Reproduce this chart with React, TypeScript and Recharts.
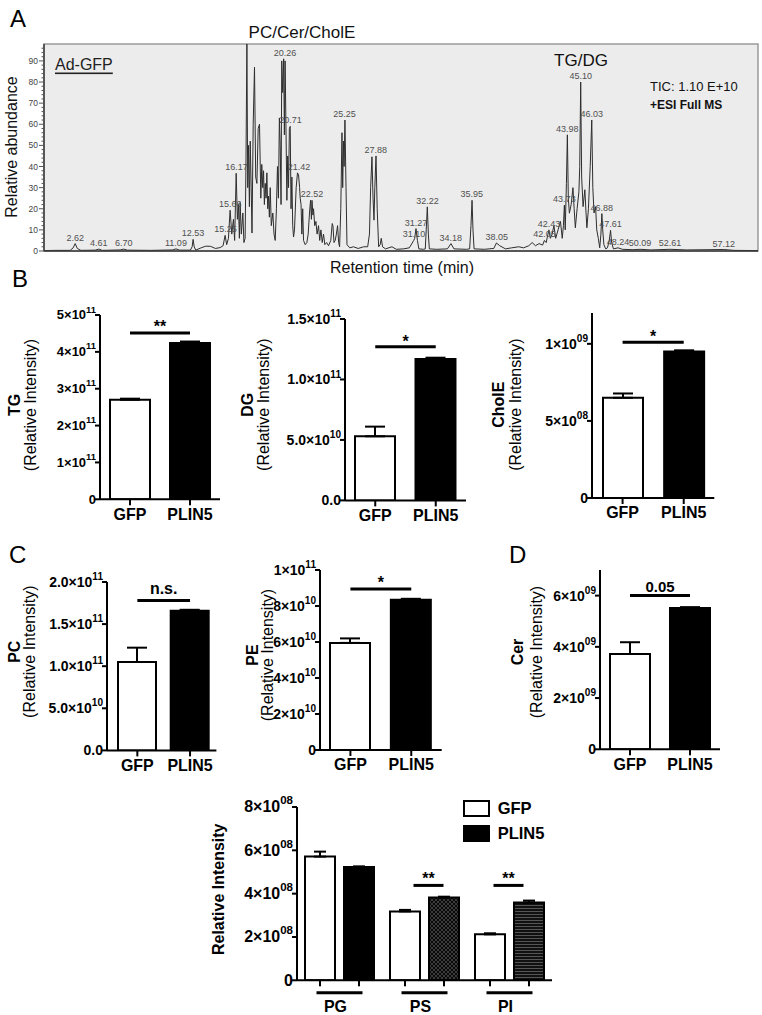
import React from 'react';
import {
  ComposedChart, BarChart, Bar, Line, XAxis, YAxis, CartesianGrid, ErrorBar,
  ReferenceLine, ReferenceArea, ReferenceDot, Cell, Legend, Label,
} from 'recharts';

const FONT = '"Liberation Sans", Arial, Helvetica, sans-serif';

// ---------- A: total ion chromatogram, Ad-GFP ----------
// [retention time (min), relative abundance]
const chromatogram: [number, number][] = [
  [0, 0.2], [1, 0.3], [2.2, 0.3], [2.45, 1.5], [2.62, 3.5], [2.8, 1.2], [3.1, 0.3], [4.3, 0.4], [4.61, 0.9], [4.9, 0.3],
  [6.4, 0.5], [6.7, 0.9], [7, 0.4], [9, 0.3], [10.8, 0.5], [11.09, 1], [11.4, 0.4], [12.3, 0.4], [12.45, 2], [12.53, 5.5],
  [12.62, 2], [12.75, 0.4], [13.2, 1.5], [13.6, 2.3], [14, 2.2], [14.4, 1.2], [14.8, 1.6], [15.05, 2.5], [15.22, 7.4], [15.35, 3],
  [15.5, 6], [15.64, 19.3], [15.78, 8], [15.92, 15], [16.02, 5], [16.15, 36.8], [16.25, 15], [16.34, 22], [16.42, 6], [16.48, 23],
  [16.58, 8], [16.71, 18], [16.8, 4], [16.9, 6], [16.97, 40], [17.05, 98], [17.12, 30], [17.19, 50], [17.26, 21], [17.33, 52],
  [17.41, 30], [17.48, 8.5], [17.58, 60], [17.69, 87], [17.79, 35], [17.89, 32], [18, 58], [18.11, 60], [18.22, 25], [18.3, 41],
  [18.38, 30], [18.45, 38], [18.52, 22], [18.59, 32], [18.66, 25], [18.73, 37], [18.8, 20], [18.87, 26], [18.94, 16], [19.01, 30],
  [19.1, 12], [19.23, 18], [19.33, 8], [19.43, 5], [19.53, 20], [19.62, 40], [19.7, 25], [19.78, 63], [19.85, 50], [19.92, 22],
  [19.98, 90], [20.06, 75], [20.14, 91], [20.2, 55], [20.26, 90], [20.33, 60], [20.41, 24], [20.48, 45], [20.55, 30], [20.62, 58],
  [20.69, 59], [20.76, 20], [20.83, 35], [20.9, 12], [20.97, 6.6], [21.05, 10], [21.19, 30], [21.3, 37], [21.39, 36], [21.48, 30],
  [21.53, 25], [21.6, 22], [21.67, 8], [21.74, 20], [21.81, 5], [21.95, 3], [22.09, 4], [22.2, 8], [22.31, 18], [22.4, 24],
  [22.47, 15], [22.52, 24], [22.6, 17], [22.65, 20], [22.75, 12], [22.85, 14], [22.95, 8], [23.07, 12], [23.17, 5], [23.27, 10],
  [23.38, 4], [23.49, 8], [23.6, 3], [23.75, 4], [23.91, 2.5], [24.1, 5], [24.22, 13], [24.28, 12], [24.37, 4], [24.47, 5],
  [24.57, 8], [24.67, 12], [24.76, 4], [24.84, 2], [24.94, 20], [25.04, 56], [25.1, 30], [25.17, 52], [25.22, 40], [25.29, 62],
  [25.38, 30], [25.46, 3], [25.7, 1.5], [26, 2], [26.4, 1.2], [26.86, 2], [27.2, 2], [27.35, 8], [27.45, 30], [27.56, 44.6],
  [27.65, 25], [27.73, 14.6], [27.8, 30], [27.9, 45], [28, 20], [28.12, 2], [28.25, 3], [28.34, 6], [28.45, 2], [28.7, 1],
  [29.24, 2], [29.6, 0.8], [30.2, 1], [30.7, 1.5], [31.07, 5], [31.15, 6], [31.26, 10.6], [31.38, 5], [31.5, 1], [31.9, 0.8],
  [32.04, 1], [32.12, 10], [32.21, 20.9], [32.3, 8], [32.38, 1], [33, 0.8], [33.9, 1], [34.2, 3.5], [34.45, 1], [35.5, 0.8],
  [35.77, 1], [35.88, 12], [35.97, 24], [36.05, 10], [36.14, 1], [37, 0.8], [37.8, 1.2], [38.02, 3.8], [38.3, 2.5], [38.78, 1],
  [39.3, 1.5], [39.9, 2], [40.3, 1.5], [40.74, 2.5], [41.02, 4], [41.3, 2.5], [41.6, 3.5], [41.9, 2.8], [42.05, 5], [42.2, 4],
  [42.43, 10], [42.55, 6], [42.7, 8], [42.85, 12], [43, 6], [43.2, 10], [43.4, 14], [43.55, 6], [43.65, 12], [43.73, 21.7],
  [43.8, 10], [43.9, 32], [43.98, 55], [44.06, 25], [44.15, 17.9], [44.3, 22], [44.45, 30], [44.55, 20], [44.65, 11], [44.8, 20],
  [44.95, 28], [45.02, 40], [45.1, 80], [45.18, 35], [45.3, 21], [45.45, 29], [45.55, 18], [45.62, 11], [45.75, 20], [45.9, 40],
  [46.03, 62], [46.12, 30], [46.22, 18], [46.35, 21], [46.45, 10], [46.58, 6], [46.7, 1.5], [46.8, 8], [46.88, 17.7], [46.95, 10],
  [47.05, 3], [47.2, 1], [47.35, 1.5], [47.5, 5], [47.61, 9.8], [47.7, 4], [47.85, 1], [48.24, 1.5], [48.6, 0.8], [49.5, 0.6],
  [50.09, 0.8], [51, 0.5], [52.61, 0.8], [54, 0.5], [57.12, 0.7], [58, 0.3], [60, 0.2],
];

// labelled peaks: [retention time, peak height]
const labelledPeaks: [number, number][] = [
  [2.62, 3.5], [4.61, 0.9], [6.7, 0.9], [11.09, 1], [12.53, 5.5], [15.25, 7.4], [15.66, 19.3], [16.17, 36.8],
  [20.26, 91], [20.71, 59], [21.42, 37], [22.52, 24], [25.25, 62], [27.88, 45], [31.1, 5], [31.27, 10.6],
  [32.22, 20.9], [34.18, 3.5], [35.95, 24], [38.05, 3.8], [42.05, 5], [42.43, 10], [43.73, 21.7], [43.98, 55],
  [45.1, 80], [46.03, 62], [46.88, 17.7], [47.61, 9.8], [48.24, 1.5], [50.09, 0.8], [52.61, 0.8], [57.12, 0.7],
];

const abundanceTicks = [0, 2, 4, 6, 8, 10, 12, 14, 16, 18, 20, 22, 24, 26, 28, 30, 32, 34, 36, 38, 40, 42, 44, 46, 48,
  50, 52, 54, 56, 58, 60, 62, 64, 66, 68, 70, 72, 74, 76, 78, 80, 82, 84, 86, 88, 90, 92, 94, 96];

// ---------- B-D: GFP vs PLIN5 ----------
const groups = ['GFP', 'PLIN5'];

const tgMean = [2.7e11, 4.24e11];
const tgSem = [0.03e11, 0.04e11];
const tgTicks = [0, 1e11, 2e11, 3e11, 4e11, 5e11];

const dgMean = [5.3e10, 1.17e11];
const dgSem = [0.8e10, 0.1e10];
const dgTicks = [0, 5e10, 1e11, 1.5e11];

const choleMean = [6.5e8, 9.5e8];
const choleSem = [0.28e8, 0.08e8];
const choleTicks = [0, 5e8, 1e9];

const pcMean = [1.05e11, 1.66e11];
const pcSem = [0.17e11, 0.01e11];
const pcTicks = [0, 5e10, 1e11, 1.5e11, 2e11];

const peMean = [5.95e10, 8.35e10];
const peSem = [0.25e10, 0.05e10];
const peTicks = [0, 2e10, 4e10, 6e10, 8e10, 1e11];

const cerMean = [3.72e9, 5.52e9];
const cerSem = [0.46e9, 0.03e9];
const cerTicks = [0, 2e9, 4e9, 6e9];

// ---------- phospholipid classes ----------
const lipidClasses = ['PG', 'PS', 'PI'];
const gfpMean = [5.71e8, 3.18e8, 2.12e8];
const gfpSem = [0.23e8, 0.07e8, 0.05e8];
const plin5Mean = [5.23e8, 3.82e8, 3.59e8];
const plin5Sem = [0.03e8, 0.04e8, 0.09e8];
const lipidTicks = [0, 2e8, 4e8, 6e8, 8e8];
const lipidSigAt = 4.38e8;

const AXIS_LINE = { stroke: '#000', strokeWidth: 2 };
const AXIS_W = 130;
const TOP_M = 30;
const RIGHT_M = 12;
const BOTTOM_H = 40;

function SciTick({ x, y, payload, decimals, fontSize }: any) {
  const v = payload.value;
  let base = '';
  let sup = '';
  if (v === 0) {
    base = decimals ? (0).toFixed(decimals) : '0';
  } else {
    const e = Math.floor(Math.log10(v) + 1e-9);
    base = (v / Math.pow(10, e)).toFixed(decimals) + '×10';
    sup = String(e).padStart(2, '0');
  }
  return (
    <text x={x + 1} y={y} textAnchor="end" dominantBaseline="central" fontSize={fontSize}
      fontWeight="bold" fill="#000" fontFamily={FONT}>
      {base}
      {sup && <tspan dy={-fontSize * 0.42} fontSize={fontSize * 0.72}>{sup}</tspan>}
    </text>
  );
}

function AbundanceTick({ x, y, payload }: any) {
  const major = payload.value % 10 === 0;
  return (
    <g>
      <line x1={x - (major ? 5 : 2.5)} x2={x} y1={y} y2={y} stroke="#555" strokeWidth={1} />
      {major && (
        <text x={x - 6} y={y} textAnchor="end" dominantBaseline="central" fontSize={8.5} fill="#444">
          {payload.value}
        </text>
      )}
    </g>
  );
}

function ChromatogramPanel() {
  const data = chromatogram.map(([t, ab]) => ({ t, ab }));
  return (
    <div style={{ position: 'absolute', left: 0, top: 0 }}>
      <ComposedChart width={762} height={290} data={data} margin={{ top: 44, right: 4, bottom: 29, left: 0 }}>
        <CartesianGrid fill="#ececec" horizontal={false} vertical={false} />
        <XAxis dataKey="t" type="number" domain={[0, 60]} allowDataOverflow height={10} tick={false}
          tickLine={false} axisLine={{ stroke: '#3a3a3a', strokeWidth: 1.5 }}>
          <Label content={() => (
            <text x={402} y={267} textAnchor="middle" dominantBaseline="central" fontSize={16} fill="#111">
              Retention time (min)
            </text>
          )} />
        </XAxis>
        <YAxis type="number" domain={[0, 98]} allowDataOverflow ticks={abundanceTicks} interval={0} width={44}
          tickSize={0} tickMargin={0} tickLine={false} axisLine={{ stroke: '#3a3a3a', strokeWidth: 1.5 }}
          tick={(t: any) => <AbundanceTick {...t} />}>
          <Label content={() => (
            <text x={11} y={147} transform="rotate(-90 11 147)" textAnchor="middle" dominantBaseline="central"
              fontSize={16} fill="#111">
              Relative abundance
            </text>
          )} />
        </YAxis>
        <ReferenceArea x1={0} x2={60} y1={0} y2={98} fill="none" stroke="#9a9a9a" strokeWidth={1.5} />
        <Line dataKey="ab" type="linear" stroke="#2e2e2e" strokeWidth={1} dot={false} isAnimationActive={false} />
        {labelledPeaks.map(([t, h]) => (
          <ReferenceDot key={t} x={t} y={h} r={0} fill="none" stroke="none"
            label={{ value: t.toFixed(2), position: 'top', offset: 3, fontSize: 9, fill: '#505050' }} />
        ))}
      </ComposedChart>
    </div>
  );
}

type PairProps = {
  box: { x: number; y: number; w: number; h: number };
  means: number[];
  sems: number[];
  domain: [number, number];
  ticks: number[];
  decimals: number;
  tickFont: number;
  sigAt: number;
  sigText: string;
  sigFont: number;
  sigOffset: number;
  title: string;
  titleX: number;
  subX: number;
  titleY: number;
  barSize?: number;
  padLeft?: number;
};

function PairPanel(p: PairProps) {
  const rows = groups.map((g, i) => ({ group: g, mean: p.means[i], sem: [0, p.sems[i]] }));
  const left = p.box.x - AXIS_W;
  const top = p.box.y - TOP_M;
  const tx = p.titleX - left;
  const sx = p.subX - left;
  const ty = p.titleY - top;
  return (
    <div style={{ position: 'absolute', left, top }}>
      <BarChart width={p.box.w + AXIS_W + RIGHT_M} height={p.box.h + TOP_M + BOTTOM_H} data={rows}
        margin={{ top: TOP_M, right: RIGHT_M, left: 0, bottom: 0 }}>
        <XAxis dataKey="group" height={BOTTOM_H} padding={{ left: p.padLeft ?? 0, right: 0 }} interval={0}
          tickSize={6} tickMargin={3} axisLine={AXIS_LINE} tickLine={AXIS_LINE}
          tick={{ fill: '#000', fontSize: 16, fontWeight: 'bold' }} />
        <YAxis type="number" domain={p.domain} allowDataOverflow ticks={p.ticks} interval={0} width={AXIS_W}
          tickSize={5} tickMargin={0} axisLine={AXIS_LINE} tickLine={AXIS_LINE}
          tick={(t: any) => <SciTick {...t} decimals={p.decimals} fontSize={p.tickFont} />}>
          <Label content={() => (
            <g>
              <text x={tx} y={ty} transform={`rotate(-90 ${tx} ${ty})`} textAnchor="middle" dominantBaseline="central"
                fontSize={16} fontWeight="bold" fill="#000">{p.title}</text>
              <text x={sx} y={ty} transform={`rotate(-90 ${sx} ${ty})`} textAnchor="middle" dominantBaseline="central"
                fontSize={16} fill="#000">(Relative Intensity)</text>
            </g>
          )} />
        </YAxis>
        <Bar dataKey="mean" barSize={p.barSize ?? 40} stroke="#000" strokeWidth={2} isAnimationActive={false}>
          {rows.map((r, i) => <Cell key={r.group} fill={i === 0 ? '#fff' : '#000'} />)}
          <ErrorBar dataKey="sem" width={10} stroke="#000" strokeWidth={2} direction="y" />
        </Bar>
        <ReferenceLine segment={[{ x: 'GFP', y: p.sigAt }, { x: 'PLIN5', y: p.sigAt }]} stroke="#000" strokeWidth={3}
          label={{ value: p.sigText, position: 'top', offset: p.sigOffset, fill: '#000', fontSize: p.sigFont, fontWeight: 'bold' }} />
      </BarChart>
    </div>
  );
}

function ClassTick({ x, y, payload }: any) {
  return (
    <g>
      <line x1={x - 19.5} x2={x - 19.5} y1={y} y2={y + 6} stroke="#000" strokeWidth={2} />
      <line x1={x + 19.5} x2={x + 19.5} y1={y} y2={y + 6} stroke="#000" strokeWidth={2} />
      <line x1={x - 23} x2={x + 23} y1={y + 12.5} y2={y + 12.5} stroke="#000" strokeWidth={3} />
      <text x={x - 4} y={y + 26} textAnchor="middle" dominantBaseline="central" fontSize={16} fontWeight="bold" fill="#000">
        {payload.value}
      </text>
    </g>
  );
}

// significance bar drawn around a category centre
function SigMark({ cx, cy, from, to, text }: any) {
  return (
    <g>
      <line x1={cx + from} x2={cx + to} y1={cy} y2={cy} stroke="#000" strokeWidth={3} />
      <text x={cx + (from + to) / 2} y={cy - 1} textAnchor="middle" fontSize={16} fontWeight="bold" fill="#000">{text}</text>
    </g>
  );
}

function LipidLegend({ payload }: any) {
  return (
    <div style={{ fontFamily: FONT, fontWeight: 'bold', fontSize: 16.5, color: '#000' }}>
      {(payload || []).map((entry: any, i: number) => (
        <div key={entry.value} style={{ display: 'flex', alignItems: 'center', height: 16.5, marginBottom: 8 }}>
          <span style={{
            display: 'inline-block', width: 23, height: 13, border: '2px solid #000',
            background: i === 0 ? '#fff' : '#000', marginRight: 8,
          }} />
          <span>{entry.value}</span>
        </div>
      ))}
    </div>
  );
}

function LipidPanel() {
  const rows = lipidClasses.map((c, i) => ({
    cls: c, gfp: gfpMean[i], gfpErr: [0, gfpSem[i]], plin5: plin5Mean[i], plin5Err: [0, plin5Sem[i]],
  }));
  const plin5Fills = ['#000', 'url(#checker)', 'url(#hstripes)'];
  const box = { x: 296.7, y: 806.7, w: 255, h: 173.3 };
  const left = box.x - AXIS_W;
  const top = box.y - TOP_M;
  const tx = 218.3 - left;
  const ty = 889 - top;
  return (
    <div style={{ position: 'absolute', left, top }}>
      <BarChart width={box.w + AXIS_W + RIGHT_M} height={box.h + TOP_M + 35} data={rows} barGap={9}
        margin={{ top: TOP_M, right: RIGHT_M, left: 0, bottom: 0 }}>
        <XAxis dataKey="cls" height={35} interval={0} tickSize={0} tickMargin={0} tickLine={false} axisLine={AXIS_LINE}
          tick={(t: any) => <ClassTick {...t} />} />
        <YAxis type="number" domain={[0, 8e8]} allowDataOverflow ticks={lipidTicks} interval={0} width={AXIS_W}
          tickSize={5} tickMargin={0} axisLine={AXIS_LINE} tickLine={AXIS_LINE}
          tick={(t: any) => <SciTick {...t} decimals={0} fontSize={16} />}>
          <Label content={() => (
            <text x={tx} y={ty} transform={`rotate(-90 ${tx} ${ty})`} textAnchor="middle" dominantBaseline="central"
              fontSize={16} fontWeight="bold" fill="#000">Relative Intensity</text>
          )} />
        </YAxis>
        <Bar dataKey="gfp" name="GFP" barSize={30} fill="#fff" stroke="#000" strokeWidth={2} isAnimationActive={false}>
          <ErrorBar dataKey="gfpErr" width={6} stroke="#000" strokeWidth={2} direction="y" />
        </Bar>
        <Bar dataKey="plin5" name="PLIN5" barSize={30} fill="#000" stroke="#000" strokeWidth={2} isAnimationActive={false}>
          {rows.map((r, i) => <Cell key={r.cls} fill={plin5Fills[i]} />)}
          <ErrorBar dataKey="plin5Err" width={6} stroke="#000" strokeWidth={2} direction="y" />
        </Bar>
        <ReferenceDot x="PS" y={lipidSigAt} r={0}
          shape={(props: any) => <SigMark {...props} from={-11} to={19} text="**" />} />
        <ReferenceDot x="PI" y={lipidSigAt} r={0}
          shape={(props: any) => <SigMark {...props} from={-16} to={14} text="**" />} />
        <Legend layout="vertical" align="center" verticalAlign="middle" wrapperStyle={{ left: 296, top: 24, width: 'auto' }}
          content={(props: any) => <LipidLegend payload={props.payload} />} />
      </BarChart>
    </div>
  );
}

export default function App() {
  return (
    <div style={{
      position: 'absolute', left: 0, top: 0, width: 762, height: 1015, overflow: 'hidden',
      background: '#fff', fontFamily: FONT,
    }}>
      <svg width={0} height={0} style={{ position: 'absolute' }}>
        <defs>
          <pattern id="checker" width="4" height="4" patternUnits="userSpaceOnUse">
            <rect width="4" height="4" fill="#3a3a3a" />
            <rect width="2" height="2" fill="#0a0a0a" />
            <rect x="2" y="2" width="2" height="2" fill="#0a0a0a" />
          </pattern>
          <pattern id="hstripes" width="4" height="3" patternUnits="userSpaceOnUse">
            <rect width="4" height="3" fill="#111" />
            <rect y="2" width="4" height="1" fill="#555" />
          </pattern>
        </defs>
      </svg>

      <ChromatogramPanel />

      <PairPanel box={{ x: 100, y: 315, w: 120, h: 184.3 }} means={tgMean} sems={tgSem} domain={[0, 5e11]} ticks={tgTicks}
        decimals={0} tickFont={13} sigAt={4.51e11} sigText="**" sigFont={16} sigOffset={1}
        title="TG" titleX={15} subX={31} titleY={405} />
      <PairPanel box={{ x: 345, y: 319.3, w: 121, h: 181.4 }} means={dgMean} sems={dgSem} domain={[0, 1.5e11]} ticks={dgTicks}
        decimals={1} tickFont={14} sigAt={1.27e11} sigText="*" sigFont={16} sigOffset={0}
        title="DG" titleX={248} subX={264} titleY={405} />
      <PairPanel box={{ x: 591.7, y: 313.3, w: 122.3, h: 185 }} means={choleMean} sems={choleSem} domain={[0, 1.2e9]}
        ticks={choleTicks} decimals={0} tickFont={14} sigAt={1.01e9} sigText="*" sigFont={16} sigOffset={0}
        title="CholE" titleX={498} subX={515} titleY={405} />

      <PairPanel box={{ x: 107.3, y: 582.3, w: 109.4, h: 168.4 }} means={pcMean} sems={pcSem} domain={[0, 2e11]} ticks={pcTicks}
        decimals={1} tickFont={14} sigAt={1.78e11} sigText="n.s." sigFont={16} sigOffset={7}
        title="PC" titleX={15} subX={30} titleY={652} barSize={38} padLeft={4} />
      <PairPanel box={{ x: 320, y: 570, w: 121.7, h: 180 }} means={peMean} sems={peSem} domain={[0, 1e11]} ticks={peTicks}
        decimals={0} tickFont={14} sigAt={8.94e10} sigText="*" sigFont={16} sigOffset={1}
        title="PE" titleX={253} subX={268} titleY={655} />
      <PairPanel box={{ x: 600, y: 570, w: 120, h: 179.3 }} means={cerMean} sems={cerSem} domain={[0, 7e9]} ticks={cerTicks}
        decimals={0} tickFont={14} sigAt={6.0e9} sigText="0.05" sigFont={15} sigOffset={4}
        title="Cer" titleX={518} subX={537} titleY={652} />

      <LipidPanel />

      <svg width={762} height={1015} style={{ position: 'absolute', left: 0, top: 0, pointerEvents: 'none' }}>
        <g fontFamily={FONT} fill="#000">
          <text x={10} y={27} fontSize={24}>A</text>
          <text x={12} y={287} fontSize={24}>B</text>
          <text x={9} y={563} fontSize={24}>C</text>
          <text x={509} y={563} fontSize={24}>D</text>
          <text x={302} y={32} fontSize={17} textAnchor="middle" dominantBaseline="central" fill="#111">PC/Cer/CholE</text>
          <text x={581} y={60} fontSize={17} textAnchor="middle" dominantBaseline="central" fill="#111">TG/DG</text>
          <text x={55} y={64} fontSize={16} dominantBaseline="central" textDecoration="underline" fill="#222">Ad-GFP</text>
          <text x={650} y={86} fontSize={13} dominantBaseline="central" fill="#111">TIC: 1.10 E+10</text>
          <text x={650} y={104.5} fontSize={12} fontWeight="bold" dominantBaseline="central" fill="#111">+ESI Full MS</text>
        </g>
      </svg>
    </div>
  );
}
